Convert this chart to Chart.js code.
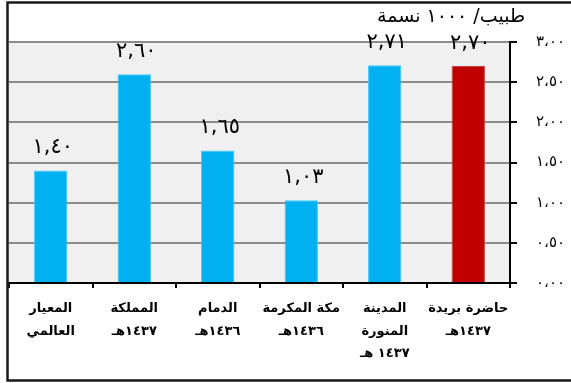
<!DOCTYPE html>
<html>
<head>
<meta charset="utf-8">
<script src="https://cdn.jsdelivr.net/npm/chart.js@4"></script>
<style>
  html, body { margin: 0; padding: 0; background: #fff; }
  #wrap { width: 571px; height: 383px; position: relative; }
</style>
</head>
<body>
<div id="wrap"><canvas id="chart" width="571" height="383" dir="rtl"></canvas></div>
<script>
// البيانات
const categories = [
  ["المعيار", "العالمي"],
  ["المملكة", "١٤٣٧هـ"],
  ["الدمام", "١٤٣٦هـ"],
  ["مكة المكرمة", "١٤٣٦هـ"],
  ["المدينة", "المنورة", "١٤٣٧ هـ"],
  ["حاضرة بريدة", "١٤٣٧هـ"]
];
const values = [1.40, 2.60, 1.65, 1.03, 2.71, 2.70];
const barColors = ["#00b0f0", "#00b0f0", "#00b0f0", "#00b0f0", "#00b0f0", "#c00000"];
const yTicks = [0, 0.5, 1, 1.5, 2, 2.5, 3];
const yTickLabels = ["٠،٠٠", "٠،٥٠", "١،٠٠", "١،٥٠", "٢،٠٠", "٢،٥٠", "٣،٠٠"];
const unitTitle = "طبيب/ ١٠٠٠ نسمة";

const arDigits = "٠١٢٣٤٥٦٧٨٩";
function toArabic(v) {
  return v.toFixed(2).replace(".", ",").replace(/[0-9]/g, d => arDigits[d]);
}

// خلفية منطقة الرسم + الإطار
const backgroundPlugin = {
  id: "bg",
  beforeDraw(chart) {
    const { ctx, chartArea: a } = chart;
    ctx.save();
    ctx.fillStyle = "#f0f0f0";
    ctx.fillRect(a.left, a.top, a.right - a.left, a.bottom - a.top);
    ctx.restore();
  },
  afterDraw(chart) {
    const ctx = chart.ctx;
    ctx.save();
    ctx.strokeStyle = "#1a1a1a";
    ctx.lineWidth = 2.5;
    ctx.beginPath();
    ctx.moveTo(600, 2.5);
    ctx.lineTo(7.5, 2.5);
    ctx.lineTo(7.5, 380.5);
    ctx.lineTo(600, 380.5);
    ctx.stroke();
    ctx.restore();
  }
};

// القيم فوق الأعمدة والعنوان
const labelsPlugin = {
  id: "labels",
  afterDatasetsDraw(chart) {
    const ctx = chart.ctx;
    const meta = chart.getDatasetMeta(0);
    ctx.save();
    ctx.direction = "ltr";
    ctx.fillStyle = "#000";
    ctx.font = '21px "DejaVu Sans", sans-serif';
    ctx.letterSpacing = "4px";
    ctx.textAlign = "center";
    ctx.textBaseline = "middle";
    meta.data.forEach((bar, i) => {
      ctx.fillText(toArabic(values[i]), bar.x + 2, bar.y - 23);
    });
    ctx.letterSpacing = "0px";
    ctx.direction = "rtl";
    ctx.font = '19px "DejaVu Sans", sans-serif';
    ctx.textAlign = "right";
    ctx.fillText(unitTitle, 525, 17);
    ctx.restore();
  }
};

new Chart(document.getElementById("chart"), {
  type: "bar",
  data: {
    labels: categories,
    datasets: [{
      data: values,
      backgroundColor: barColors,
      borderColor: barColors.map(c => c === "#c00000" ? "#d04040" : "#40c8f8"),
      borderWidth: 1,
      categoryPercentage: 0.8,
      barPercentage: 0.5
    }]
  },
  options: {
    responsive: false,
    animation: false,
    layout: { padding: { left: 9, top: 42, right: 0, bottom: 0 } },
    plugins: {
      legend: { display: false },
      tooltip: { enabled: false }
    },
    scales: {
      x: {
        border: { color: "#000", width: 2 },
        grid: {
          offset: true,
          drawOnChartArea: false,
          drawTicks: true,
          tickLength: 5,
          color: "#000",
          lineWidth: 2
        },
        ticks: {
          color: "#000",
          font: { family: "DejaVu Sans", size: 13, weight: "bold", lineHeight: 1.7 },
          padding: 10,
          maxRotation: 0,
          autoSkip: false
        },
        afterFit(scale) { scale.height = 100; }
      },
      y: {
        position: "right",
        min: 0,
        max: 3,
        afterBuildTicks(scale) { scale.ticks = yTicks.map(v => ({ value: v })); },
        border: { color: "#000", width: 2 },
        grid: {
          color: "#8c8c8c",
          lineWidth: 2,
          tickColor: "#000",
          tickLength: 7
        },
        ticks: {
          color: "#000",
          font: { family: "DejaVu Sans", size: 15 },
          padding: 19,
          callback: (v) => yTickLabels[yTicks.indexOf(v)]
        },
        afterFit(scale) { scale.width = 61; }
      }
    }
  },
  plugins: [backgroundPlugin, labelsPlugin]
});
</script>
</body>
</html>
